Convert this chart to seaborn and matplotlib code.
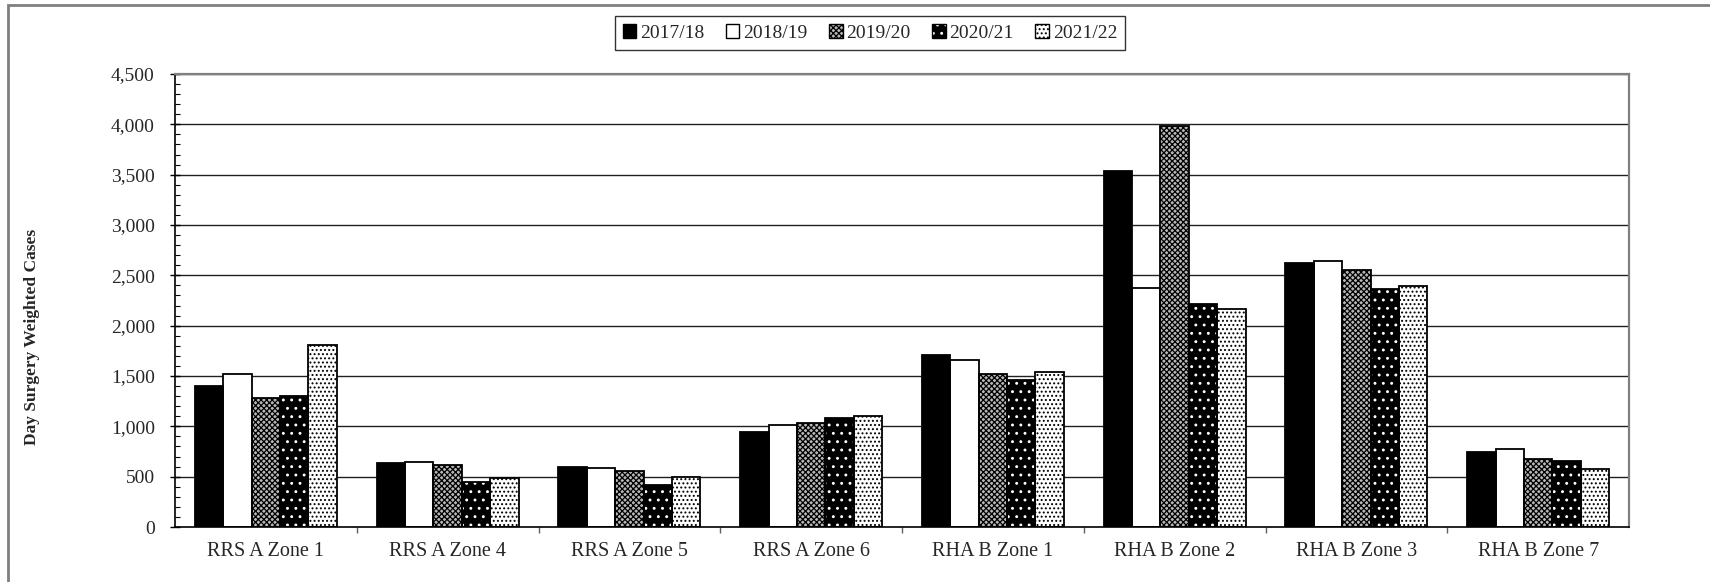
import matplotlib
matplotlib.use("Agg")
import matplotlib.pyplot as plt
import seaborn as sns
import pandas as pd
import numpy as np
from matplotlib.patches import Rectangle, Patch
from matplotlib.ticker import FuncFormatter, MultipleLocator, FixedLocator

zones = ["RRS A Zone 1", "RRS A Zone 4", "RRS A Zone 5", "RRS A Zone 6",
         "RHA B Zone 1", "RHA B Zone 2", "RHA B Zone 3", "RHA B Zone 7"]
years = ["2017/18", "2018/19", "2019/20", "2020/21", "2021/22"]
v2017_18 = [1400, 636, 593, 947, 1708, 3535, 2618, 748]
v2018_19 = [1516, 645, 583, 1013, 1658, 2376, 2641, 778]
v2019_20 = [1278, 616, 553, 1036, 1516, 3985, 2549, 675]
v2020_21 = [1301, 444, 417, 1082, 1465, 2218, 2363, 652]
v2021_22 = [1807, 484, 493, 1105, 1539, 2165, 2393, 579]
y_ticks = [0, 500, 1000, 1500, 2000, 2500, 3000, 3500, 4000, 4500]

series = [v2017_18, v2018_19, v2019_20, v2020_21, v2021_22]
df = pd.DataFrame({
    "zone": [z for s in series for z in zones],
    "year": [y for y, s in zip(years, series) for _ in s],
    "value": [v for s in series for v in s],
})

sns.set_theme(style="white")
plt.rcParams['font.family'] = ['Liberation Serif', 'DejaVu Serif']
plt.rcParams['hatch.linewidth'] = 0.9

W, H = 1710, 582
fig = plt.figure(figsize=(W / 100, H / 100), dpi=100)
ax = fig.add_axes([175 / W, 1 - 527 / H, (1629 - 175) / W, (527 - 74) / H])

ax.set_axisbelow(True)
for yv in y_ticks[1:]:
    ax.axhline(yv, color="#202020", lw=1.0, zorder=0)

sns.barplot(data=df, x="zone", y="value", hue="year", hue_order=years,
            order=zones, palette=["black"] * 5, saturation=1, width=0.78,
            gap=0, errorbar=None, legend=False, ax=ax)

styles = {
    "2017/18": dict(fc="black", hatch=None, hc="black"),
    "2018/19": dict(fc="white", hatch=None, hc="white"),
    "2019/20": dict(fc="#b8b8b8", hatch="xxxxxx", hc="black"),
    "2020/21": dict(fc="black", hatch="..", hc="white"),
    "2021/22": dict(fc="white", hatch="....", hc="black"),
}

for cont, yr in zip(ax.containers, years):
    st = styles[yr]
    for p in cont.patches:
        p.set_facecolor(st["fc"])
        p.set_edgecolor(st["hc"])
        p.set_hatch(st["hatch"])
        p.set_linewidth(0)
        ax.add_patch(Rectangle(p.get_xy(), p.get_width(), p.get_height(),
                               fill=False, ec="black", lw=1.3, zorder=p.get_zorder() + 0.1))

ax.set_ylim(0, 4500)
ax.set_xlim(-0.5, len(zones) - 0.5)
ax.yaxis.set_major_locator(FixedLocator(y_ticks))
ax.yaxis.set_minor_locator(MultipleLocator(100))
ax.yaxis.set_major_formatter(FuncFormatter(lambda v, p: f"{int(v):,}"))
ax.tick_params(axis="y", which="major", direction="inout", length=7, width=1,
               color="black", labelsize=14, pad=11, left=True)
ax.tick_params(axis="y", which="minor", direction="in", length=3.5, width=0.8,
               color="black", left=True)
ax.set_xticks(range(len(zones)))
ax.set_xticklabels(zones)
ax.xaxis.set_minor_locator(FixedLocator(np.arange(0.5, len(zones) - 1, 1.0)))
ax.tick_params(axis="x", which="major", length=0, labelsize=14.5, pad=11)
ax.tick_params(axis="x", which="minor", direction="out", length=4, width=1,
               color="#606060", bottom=True)

ax.set_xlabel("")
ax.set_ylabel("Day Surgery Weighted Cases", fontsize=12.5, fontweight="bold")
ax.yaxis.set_label_coords((40 - 175) / (1629 - 175), 0.42)

for s in ["left", "bottom"]:
    ax.spines[s].set_color("black")
    ax.spines[s].set_linewidth(1.2)
for s in ["top", "right"]:
    ax.spines[s].set_color("#808080")
    ax.spines[s].set_linewidth(1.6)

handles = []
for yr in years:
    st = styles[yr]
    h1 = Patch(facecolor=st["fc"], edgecolor=st["hc"], hatch=st["hatch"], lw=0)
    h2 = Patch(fill=False, edgecolor="black", lw=1)
    handles.append((h1, h2))
leg = fig.legend(handles, years, loc="center", bbox_to_anchor=(870 / W, 1 - 33 / H),
                 ncol=5, frameon=True, fancybox=False, fontsize=14,
                 handlelength=0.7, handleheight=0.7, handletextpad=0.2,
                 columnspacing=1.1, borderpad=0.4, edgecolor="black")
leg.get_frame().set_linewidth(1.0)

fig.patches.append(Rectangle((8 / W, -0.1), 1.2, 1 - 5 / H + 0.1,
                             transform=fig.transFigure, fill=False,
                             ec="#808080", lw=2))

fig.savefig("out.png", dpi=100)
